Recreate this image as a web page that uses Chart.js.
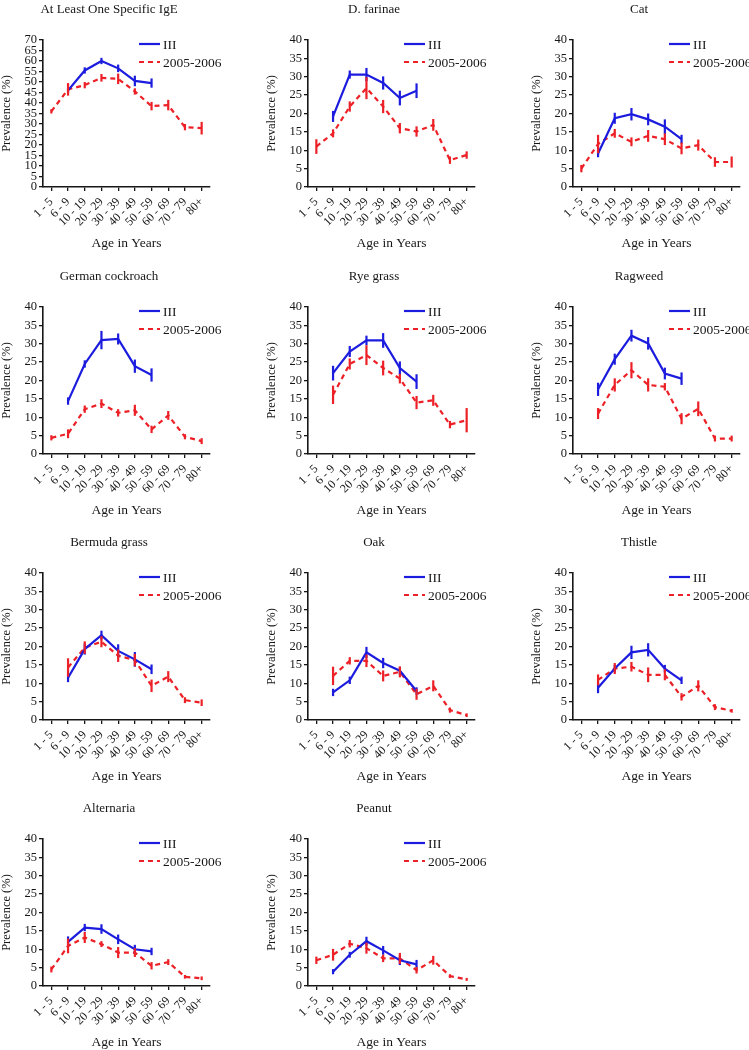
<!DOCTYPE html>
<html>
<head>
<meta charset="utf-8">
<script src="https://cdn.jsdelivr.net/npm/chart.js@4"></script>
<style>
  body { margin: 0; background: #fff; }
  #wrap { position: relative; width: 749px; height: 1050px; overflow: hidden; }
  #wrap canvas { position: absolute; }
</style>
</head>
<body>
<div id="wrap"></div>
<script>
// age groups on the x axis
const ageGroups = ["1 - 5", "6 - 9", "10 - 19", "20 - 29", "30 - 39", "40 - 49", "50 - 59", "60 - 69", "70 - 79", "80+"];
const seriesNames = ["III", "2005-2006"];

const panelTitles = ["At Least One Specific IgE", "D. farinae", "Cat", "German cockroach", "Rye grass", "Ragweed",
  "Bermuda grass", "Oak", "Thistle", "Alternaria", "Peanut"];
const yMax = [70, 40, 40, 40, 40, 40, 40, 40, 40, 40, 40];

// prevalence (%) and half error bar
const igeIII = [null, 46, 55.5, 60, 56.5, 50.5, 49.5, null, null, null];
const igeIIIErr = [0, 1, 1.5, 1.5, 1.8, 2.5, 2.2, 0, 0, 0];
const ige0506 = [36, 46.5, 48.5, 52, 51.5, 45.5, 38.5, 39, 28.5, 28];
const ige0506Err = [1, 3, 1.5, 1.8, 2.5, 1.5, 2, 2.5, 1.5, 3];

const dfarIII = [null, 19.2, 30.6, 30.6, 28.3, 24.2, 26.2, null, null, null];
const dfarIIIErr = [0, 1.5, 1.1, 1.8, 1.8, 2, 2, 0, 0, 0];
const dfar0506 = [11, 14.6, 21.9, 26.9, 21.9, 16, 15.1, 16.9, 7.3, 8.7];
const dfar0506Err = [2, 1.1, 1.4, 3, 1.8, 1.4, 1.4, 1.6, 1, 1];

const catIII = [null, 9.1, 18.7, 19.8, 18.4, 16.4, 13, null, null, null];
const catIIIErr = [0, 1, 1.5, 1.7, 1.6, 2, 1.2, 0, 0, 0];
const cat0506 = [5, 11.7, 14.6, 12.3, 13.9, 13, 10.5, 11.4, 6.8, 6.8];
const cat0506Err = [1, 2.5, 1.2, 1.2, 1.6, 1.6, 1.6, 1.5, 1.3, 1.5];

const roachIII = [null, 14.4, 24.5, 31, 31.3, 23.9, 21.5, null, null, null];
const roachIIIErr = [0, 1, 1, 2.5, 1.5, 1.8, 1.8, 0, 0, 0];
const roach0506 = [4.4, 5.5, 12.2, 13.7, 11.2, 11.9, 6.7, 10.5, 4.7, 3.5];
const roach0506Err = [0.7, 1.2, 1, 1.2, 1, 1.5, 1, 1.2, 0.7, 0.8];

const ryeIII = [null, 22, 27.9, 30.9, 30.9, 23.4, 19.7, null, null, null];
const ryeIIIErr = [0, 2, 1.5, 1.3, 2, 1.8, 2, 0, 0, 0];
const rye0506 = [null, 16.1, 24.5, 26.9, 23.4, 20.5, 14, 14.6, 8, 9.2];
const rye0506Err = [0, 2.5, 1.5, 2.7, 2, 1.3, 1.8, 1.5, 1, 3.3];

const ragIII = [null, 17.6, 25.8, 32.2, 30.1, 21.9, 20.5, null, null, null];
const ragIIIErr = [0, 1.8, 1.5, 1.6, 1.7, 1.6, 1.7, 0, 0, 0];
const rag0506 = [null, 11, 18.8, 22.8, 18.8, 18.3, 9.6, 12.3, 4.2, 4.2];
const rag0506Err = [0, 1.5, 1.8, 2.2, 1.8, 1, 1.5, 2, 0.8, 0.8];

const bermIII = [null, 11.5, 19.3, 23.1, 18.8, 16.5, 13.8, null, null, null];
const bermIIIErr = [0, 1.2, 1.5, 1.2, 1.8, 2, 1.3, 0, 0, 0];
const berm0506 = [null, 14.3, 19.7, 21.3, 17.5, 16.3, 9.3, 11.8, 5.4, 4.7];
const berm0506Err = [0, 2.5, 1.7, 1.5, 1.7, 1.7, 1.7, 1.5, 0.8, 0.9];

const oakIII = [null, 7.5, 10.8, 18.4, 15.5, 13.4, 7.9, null, null, null];
const oakIIIErr = [0, 1, 1, 1.5, 1.4, 1, 1, 0, 0, 0];
const oak0506 = [null, 12, 16.1, 16.1, 12, 13.1, 7, 9.3, 2.7, 1.3];
const oak0506Err = [0, 2.5, 1, 1.7, 1.5, 1.5, 1.5, 1.5, 0.7, 0.5];

const thisIII = [null, 8.8, 14, 18.4, 19.1, 14, 10.8, null, null, null];
const thisIIIErr = [0, 1.5, 1, 1.8, 1.8, 1, 1, 0, 0, 0];
const this0506 = [null, 10.9, 14, 14.5, 12.3, 12.3, 6.3, 9.3, 3.5, 2.5];
const this0506Err = [0, 1.5, 1.5, 1.3, 2, 1.5, 1, 1.5, 0.8, 0.5];

const altIII = [null, 12, 15.9, 15.5, 12.7, 10, 9.4, null, null, null];
const altIIIErr = [0, 1.5, 1, 1.3, 1.3, 1.2, 1, 0, 0, 0];
const alt0506 = [4.5, 10.9, 13.2, 11.4, 9.1, 9.1, 5.5, 6.5, 2.5, 2.1];
const alt0506Err = [0.8, 2, 1.5, 0.8, 1.5, 1.2, 1, 0.8, 0.5, 0.5];

const peanutIII = [null, 3.9, 8.5, 12.2, 9.7, 7, 5.9, null, null, null];
const peanutIIIErr = [0, 0.7, 0.8, 1.2, 1.2, 1.3, 1.2, 0, 0, 0];
const peanut0506 = [7, 8.5, 11.5, 10.3, 7.5, 7.5, 4.3, 7, 2.7, 1.8];
const peanut0506Err = [1, 1.6, 1, 1.5, 1, 1.5, 0.9, 1.2, 0.5, 0.4];

const panelIII = [igeIII, dfarIII, catIII, roachIII, ryeIII, ragIII, bermIII, oakIII, thisIII, altIII, peanutIII];
const panelIIIErr = [igeIIIErr, dfarIIIErr, catIIIErr, roachIIIErr, ryeIIIErr, ragIIIErr, bermIIIErr, oakIIIErr, thisIIIErr, altIIIErr, peanutIIIErr];
const panel0506 = [ige0506, dfar0506, cat0506, roach0506, rye0506, rag0506, berm0506, oak0506, this0506, alt0506, peanut0506];
const panel0506Err = [ige0506Err, dfar0506Err, cat0506Err, roach0506Err, rye0506Err, rag0506Err, berm0506Err, oak0506Err, this0506Err, alt0506Err, peanut0506Err];

const SERIF = "'Liberation Serif', 'Times New Roman', serif";
const BLUE = "rgb(28, 28, 222)";
const RED = "rgb(236, 32, 38)";
const INK = "#161616";
const colLeft = [-1, 264, 529];
const rowTop = [0, 267, 533, 799];

// error bars, panel title and the small legend inside the plot
const panelDecor = {
  id: "panelDecor",
  afterDatasetsDraw(chart) {
    const ctx = chart.ctx;
    const yScale = chart.scales.y;
    chart.data.datasets.forEach((ds, d) => {
      const meta = chart.getDatasetMeta(d);
      ctx.save();
      ctx.strokeStyle = ds.borderColor;
      ctx.lineWidth = 2.2;
      ds.data.forEach((v, i) => {
        if (v == null || !ds.err[i]) return;
        const x = meta.data[i].x;
        ctx.beginPath();
        ctx.moveTo(x, yScale.getPixelForValue(v - ds.err[i]));
        ctx.lineTo(x, yScale.getPixelForValue(v + ds.err[i]));
        ctx.stroke();
      });
      ctx.restore();
    });
  },
  afterDraw(chart, args, opts) {
    const ctx = chart.ctx;
    const area = chart.chartArea;
    ctx.save();
    ctx.fillStyle = INK;
    ctx.font = "13px " + SERIF;
    ctx.textAlign = "center";
    ctx.textBaseline = "middle";
    ctx.fillText(opts.title, area.left + 66, 10);

    ctx.font = "13.5px " + SERIF;
    ctx.textAlign = "left";
    chart.data.datasets.forEach((ds, k) => {
      const yy = area.top + 4 + k * 18;
      ctx.strokeStyle = ds.borderColor;
      ctx.lineWidth = 2.2;
      ctx.setLineDash(ds.borderDash || []);
      ctx.beginPath();
      ctx.moveTo(area.left + 96, yy);
      ctx.lineTo(area.left + 117, yy);
      ctx.stroke();
      ctx.fillText(ds.label, area.left + 120, yy + 1);
    });
    ctx.restore();
  }
};

const wrap = document.getElementById("wrap");

panelTitles.forEach((title, p) => {
  const canvas = document.createElement("canvas");
  canvas.width = 222;
  canvas.height = 252;
  canvas.style.left = colLeft[p % 3] + "px";
  canvas.style.top = rowTop[Math.floor(p / 3)] + "px";
  wrap.appendChild(canvas);

  const axisGrid = { display: true, drawOnChartArea: false, drawTicks: true, tickLength: 4, offset: false, color: INK, lineWidth: 1.3 };
  const axisBorder = { display: true, color: INK, width: 1.6 };

  new Chart(canvas, {
    type: "line",
    data: {
      labels: ageGroups,
      datasets: [
        {
          label: seriesNames[0],
          data: panelIII[p],
          err: panelIIIErr[p],
          borderColor: BLUE,
          borderWidth: 2.2,
          pointRadius: 0,
        },
        {
          label: seriesNames[1],
          data: panel0506[p],
          err: panel0506Err[p],
          borderColor: RED,
          borderWidth: 2.2,
          borderDash: [5, 4],
          pointRadius: 0,
        },
      ],
    },
    options: {
      responsive: false,
      animation: false,
      layout: { padding: { top: 40, right: 11, bottom: 0, left: 0 } },
      plugins: {
        legend: { display: false },
        tooltip: { enabled: false },
        panelDecor: { title: title },
      },
      scales: {
        x: {
          offset: true,
          grid: axisGrid,
          border: axisBorder,
          ticks: {
            autoSkip: false,
            maxRotation: 45,
            minRotation: 45,
            padding: 4,
            color: INK,
            font: { family: SERIF, size: 12 },
          },
          title: { display: true, text: "Age in Years", padding: 0, color: INK, font: { family: SERIF, size: 13.5 } },
          afterFit: (s) => { s.height = 65; },
        },
        y: {
          min: 0,
          max: yMax[p],
          grid: axisGrid,
          border: axisBorder,
          ticks: {
            stepSize: 5,
            autoSkip: false,
            padding: 2,
            color: INK,
            font: { family: SERIF, size: 12.5 },
          },
          title: { display: true, text: "Prevalence (%)", padding: 0, color: INK, font: { family: SERIF, size: 12.5 } },
          afterFit: (s) => { s.width = 44; },
        },
      },
    },
    plugins: [panelDecor],
  });
});
</script>
</body>
</html>
